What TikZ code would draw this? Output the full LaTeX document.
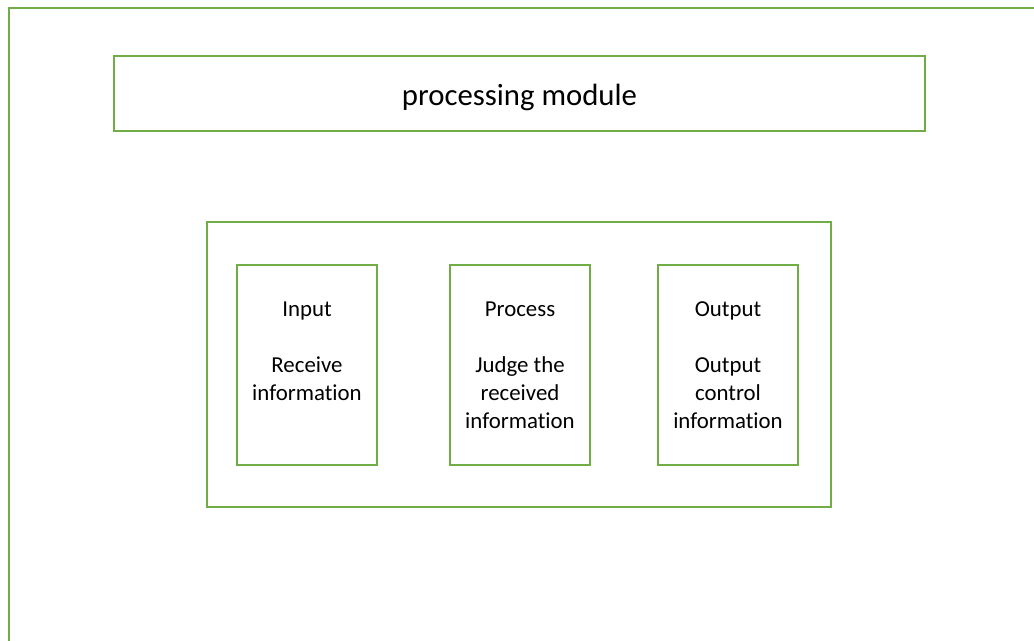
\documentclass[tikz,border=0pt]{standalone}
\usepackage{fontspec}
\setmainfont{Carlito}[Ligatures=NoCommon]
\usetikzlibrary{positioning}

\definecolor{frameGreen}{RGB}{112,173,71}

\begin{document}
\begin{tikzpicture}[x=0.02cm,y=-0.02cm,
    box/.style={draw=frameGreen, line width=0.75pt, inner sep=0pt},
    part/.style={box, minimum width=2.8cm, minimum height=4cm},
    parttext/.style={inner sep=0pt, align=center, anchor=north,
        font=\fontsize{13}{15.9}\selectfont}]
  \useasboundingbox (0,0) rectangle (1034,640);
  % outer frame, cut off at right and bottom
  \draw[frameGreen, line width=0.75pt] (9,700) -- (9,8) -- (1100,8);

  \node[box, minimum width=16.22cm, minimum height=1.5cm, text height=17.8pt, text depth=3.9pt,
        font=\fontsize{17.5}{21}\selectfont] (title) at (519.5,93.5) {processing module};
  \node[box, minimum width=12.48cm, minimum height=5.7cm] (unit) at (519,364.5) {};

  \node[part] (inBox)   at (307,365) {};
  \node[part] (procBox) at (520,365) {};
  \node[part] (outBox)  at (728,365) {};

  \node[parttext, below=0.74cm of inBox.north]   (inText)   {Input\\[15.9pt]Receive\\information};
  \node[parttext, below=0.74cm of procBox.north] (procText) {Process\\[15.9pt]Judge the\\received\\information};
  \node[parttext, below=0.74cm of outBox.north]  (outText)  {Output\\[15.9pt]Output\\control\\information};
\end{tikzpicture}
\end{document}
